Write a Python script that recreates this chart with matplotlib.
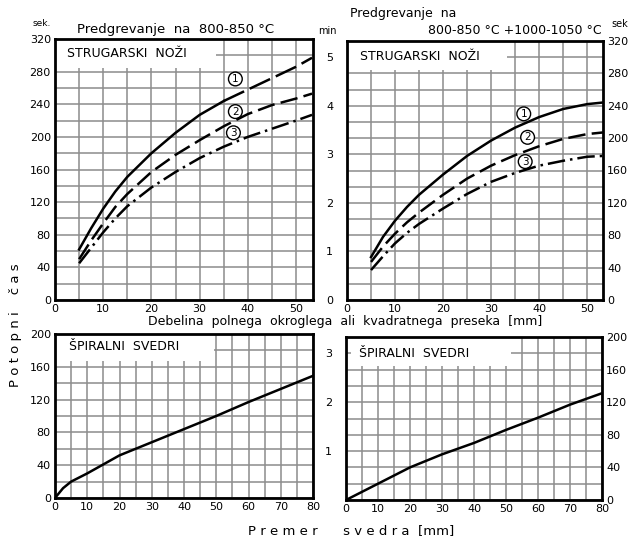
import matplotlib.pyplot as plt
from matplotlib.patches import Rectangle

# debelina preseka [mm]
thick_x = [5, 7.5, 10, 12.5, 15, 20, 25, 30, 35, 40, 45, 50, 53.3]

# predgrevanje 800-850 C, potopni cas [s]
left_c1 = [62, 88, 112, 133, 151, 180, 205, 227, 244, 258, 272, 286, 297]
left_c2 = [50, 73, 94, 114, 130, 157, 178, 196, 213, 228, 239, 247, 253]
left_c3 = [45, 64, 83, 100, 115, 138, 157, 174, 188, 200, 210, 220, 227]

# predgrevanje 800-850 C + 1000-1050 C, potopni cas [s]
right_c1 = [53, 78, 98, 115, 130, 155, 178, 197, 213, 226, 236, 242, 244]
right_c2 = [47, 66, 82, 96, 108, 130, 150, 166, 179, 190, 199, 205, 207]
right_c3 = [37, 54, 70, 83, 94, 113, 131, 146, 157, 166, 172, 177, 178]

# spiralni svedri, premer [mm] -> cas [s]
drill_left_x = [0, 2.5, 5, 10, 20, 30, 40, 50, 60, 70, 80]
drill_left_y = [0, 12, 20, 30, 52, 68, 84, 100, 117, 133, 149]
drill_right_x = [0, 10, 20, 30, 40, 50, 60, 70, 80]
drill_right_y = [0, 20, 40, 56, 70, 86, 101, 117, 131]

# circled curve labels (x, y) per panel
left_marks = [(37.4, 271), (37.4, 231), (37.0, 205)]
right_marks = [(36.8, 230), (37.6, 201), (37.1, 171)]

FS = 8
GRID = "#8c8c8c"

plt.rcParams["font.family"] = ["DejaVu Sans"]

fig = plt.figure(figsize=(6.28, 5.37), dpi=100)
W, H = 628, 537


def add_axes(l, t, r, b):
    return fig.add_axes([l / W, 1 - b / H, (r - l) / W, (b - t) / H])


def style(ax, xmax, ymax, xmajor, xminor, ymajor, yminor, ylabel_side):
    ax.set_xlim(0, xmax)
    ax.set_ylim(0, ymax)
    ax.set_xticks(range(0, int(xmax) + 1, xmajor))
    ax.set_xticks(range(0, int(xmax) + 1, xminor), minor=True)
    ax.set_yticks(range(0, int(ymax) + 1, ymajor))
    ax.set_yticks(range(0, int(ymax) + 1, yminor), minor=True)
    ax.grid(which="both", color=GRID, lw=1.1)
    ax.set_axisbelow(True)
    ax.tick_params(which="both", length=0, labelsize=FS, pad=3)
    if ylabel_side == "right":
        ax.yaxis.tick_right()
    for sp in ax.spines.values():
        sp.set_linewidth(2)
    return ax


def label_box(ax, x0, y0, w, h, txt, tx, ty):
    ax.add_patch(Rectangle((x0, y0), w, h, facecolor="white",
                           edgecolor="none", zorder=1))
    ax.text(tx, ty, txt, fontsize=9, va="center", ha="left", zorder=3)


def circles(ax, marks):
    for i, (x, y) in enumerate(marks, start=1):
        ax.text(x, y, str(i), fontsize=7.5, ha="center", va="center", zorder=4,
                bbox=dict(boxstyle="circle,pad=0.18", fc="white", ec="black",
                          lw=1.0))


curve_kw = dict(color="black", lw=1.8, zorder=3)
DASH = (0, (7, 2.5))
LONGDASH = (0, (9, 2.5))
DASHDOT = (0, (7, 2, 1, 2))

# --- top left
ax1 = style(add_axes(55, 39, 313, 300), 53.5, 320, 10, 5, 40, 20, "left")
label_box(ax1, 0.3, 285, 33, 34.5, "STRUGARSKI  NOŽI", 2.5, 302)
ax1.plot(thick_x[:9], left_c1[:9], ls="-", **curve_kw)
ax1.plot(thick_x[8:], left_c1[8:], ls=LONGDASH, **curve_kw)
ax1.plot(thick_x, left_c2, ls=DASH, **curve_kw)
ax1.plot(thick_x, left_c3, ls=DASHDOT, **curve_kw)
circles(ax1, left_marks)

# --- top right
ax2 = style(add_axes(347, 41, 603, 300), 53.3, 320, 10, 5, 40, 20, "right")
label_box(ax2, 0.3, 284, 33, 35.5, "STRUGARSKI  NOŽI", 2.8, 301)
ax2.plot(thick_x, right_c1, ls="-", **curve_kw)
ax2.plot(thick_x, right_c2, ls=DASH, **curve_kw)
ax2.plot(thick_x, right_c3, ls=DASHDOT, **curve_kw)
circles(ax2, right_marks)
sec2 = ax2.secondary_yaxis("left", functions=(lambda s: s / 60, lambda m: m * 60))
sec2.set_yticks([0, 1, 2, 3, 4, 5])
sec2.tick_params(length=0, labelsize=FS, pad=10)
sec2.spines["left"].set_visible(False)

# --- bottom left
ax3 = style(add_axes(55, 334, 313, 498), 80, 200, 10, 5, 40, 20, "left")
label_box(ax3, 0.3, 167, 49, 32.5, "ŠPIRALNI  SVEDRI", 4.2, 185)
ax3.plot(drill_left_x, drill_left_y, ls="-", **curve_kw)

# --- bottom right
ax4 = style(add_axes(346, 337, 602, 500), 80, 200, 10, 5, 40, 20, "right")
label_box(ax4, 1.5, 165, 50, 34.5, "ŠPIRALNI  SVEDRI", 4.2, 180)
ax4.plot(drill_right_x, drill_right_y, ls="-", **curve_kw)
sec4 = ax4.secondary_yaxis("left", functions=(lambda s: s / 60, lambda m: m * 60))
sec4.set_yticks([1, 2, 3])
sec4.tick_params(length=0, labelsize=FS, pad=10)
sec4.spines["left"].set_visible(False)

# --- free texts
def ftext(x, y, s, **kw):
    kw.setdefault("fontsize", FS)
    fig.text(x / W, 1 - y / H, s, **kw)


ftext(33, 23, "sek.", fontsize=6.5, va="center")
ftext(77, 29, "Predgrevanje  na  800-850 °C", fontsize=9.5, va="center")
ftext(318, 31, "min", fontsize=7, va="center")
ftext(350, 14, "Predgrevanje  na", fontsize=9, va="center")
ftext(602, 30, "800-850 °C +1000-1050 °C", fontsize=9, va="center", ha="right")
ftext(611, 24, "sek", fontsize=7, va="center")
ftext(345, 322, "Debelina  polnega  okroglega  ali  kvadratnega  preseka  [mm]",
      fontsize=9, va="center", ha="center")
ftext(351, 531, "P r e m e r      s v e d r a  [mm]", fontsize=9.5,
      va="center", ha="center")
ftext(16, 325, "P o t o p n i    č a s", fontsize=9.5, va="center",
      ha="center", rotation=90)

fig.savefig("out.png", dpi=100)
